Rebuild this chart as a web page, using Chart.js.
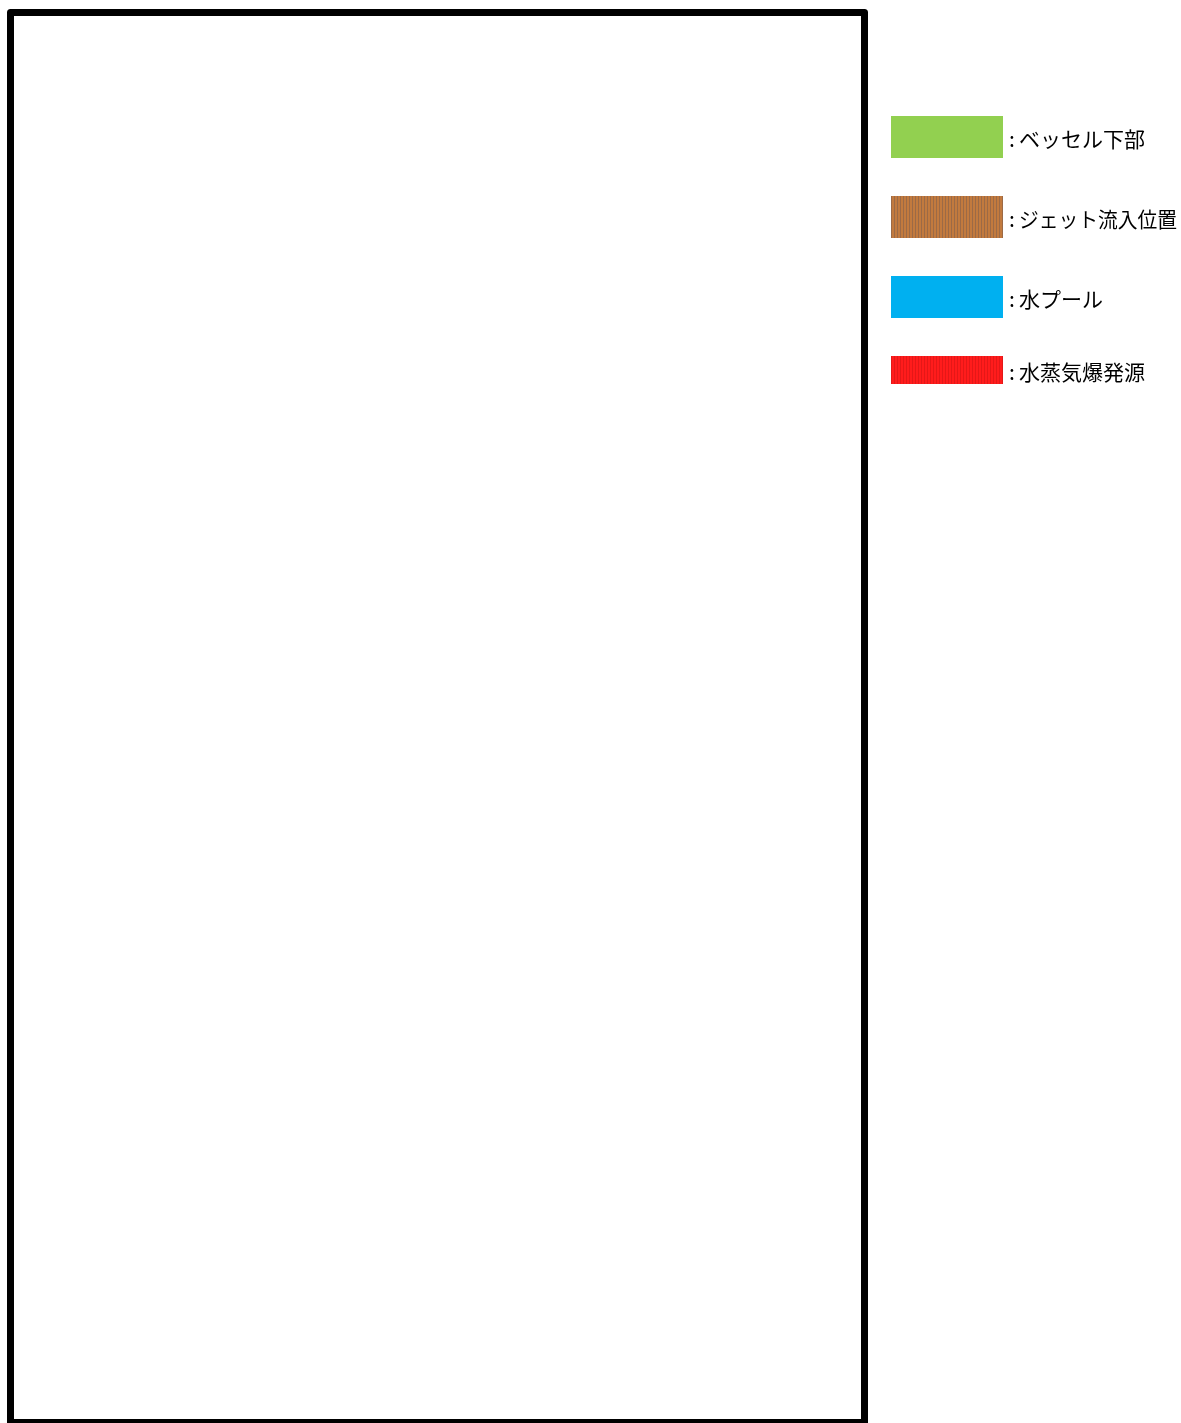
<!DOCTYPE html>
<html lang="ja">
<head>
<meta charset="utf-8">
<title>凡例</title>
<script src="https://cdn.jsdelivr.net/npm/chart.js@4/dist/chart.umd.min.js"></script>
<style>
  html, body { margin: 0; padding: 0; background: #fff; }
  #wrap { width: 1181px; height: 1423px; position: relative; }
</style>
</head>
<body>
<div id="wrap"><canvas id="zu"></canvas></div>
<script>
// 凡例の項目 (図そのものは空)
const kubun = ['ベッセル下部', 'ジェット流入位置', '水プール', '水蒸気爆発源'];
const iro = ['#92D050', '#C27A3E', '#00B0F0', '#FF1C1C'];
const shima = [null, '#9C6A46', null, '#E41818']; // 縦縞の色
const atai = [[], [], [], []]; // 描画される値はなし

// 縦縞パターンを作る
function tateshima(kiso, sen) {
    const c = document.createElement('canvas');
    c.width = 3; c.height = 4;
    const g = c.getContext('2d');
    g.fillStyle = kiso;
    g.fillRect(0, 0, 3, 4);
    g.fillStyle = sen;
    g.fillRect(0, 0, 1, 4);
    return g.createPattern(c, 'repeat');
}

// 枠線
const wakusen = {
    id: 'wakusen',
    afterDraw(chart) {
        const a = chart.chartArea;
        const g = chart.ctx;
        g.save();
        g.strokeStyle = '#000';
        g.lineWidth = 7;
        g.lineJoin = 'round';
        g.strokeRect(a.left, a.top, a.right - a.left, a.bottom - a.top);
        g.restore();
    }
};

// 右側の凡例
const hanrei = {
    id: 'hanrei',
    afterDraw(chart) {
        const g = chart.ctx;
        const x0 = 891;
        const ue = [116, 196, 276, 356];
        const takasa = [42, 42, 42, 28];
        g.save();
        chart.data.datasets.forEach((ds, i) => {
            g.fillStyle = ds.backgroundColor;
            g.fillRect(x0, ue[i], 112, takasa[i]);
            g.fillStyle = '#000';
            g.font = '21px "Noto Sans CJK JP", sans-serif';
            g.textBaseline = 'middle';
            const y = ue[i] + takasa[i] / 2 + 2;
            g.fillText(':', 1009, y);
            g.fillText(ds.label, 1019, y, 158); // 右端からはみ出さないように
        });
        g.restore();
    }
};

const ctx = document.getElementById('zu').getContext('2d');
const zu = new Chart(ctx, {
    type: 'bar',
    data: {
        labels: [],
        datasets: kubun.map((k, i) => ({
            label: k,
            data: atai[i],
            backgroundColor: shima[i] ? tateshima(iro[i], shima[i]) : iro[i]
        }))
    },
    options: {
        responsive: true,
        maintainAspectRatio: false,
        animation: false,
        layout: { padding: { left: 10.5, top: 12.5, right: 316.5, bottom: 0.5 } },
        plugins: { legend: { display: false }, tooltip: { enabled: false } },
        scales: {
            x: { display: false },
            y: { display: false }
        }
    },
    plugins: [wakusen, hanrei]
});
</script>
</body>
</html>
